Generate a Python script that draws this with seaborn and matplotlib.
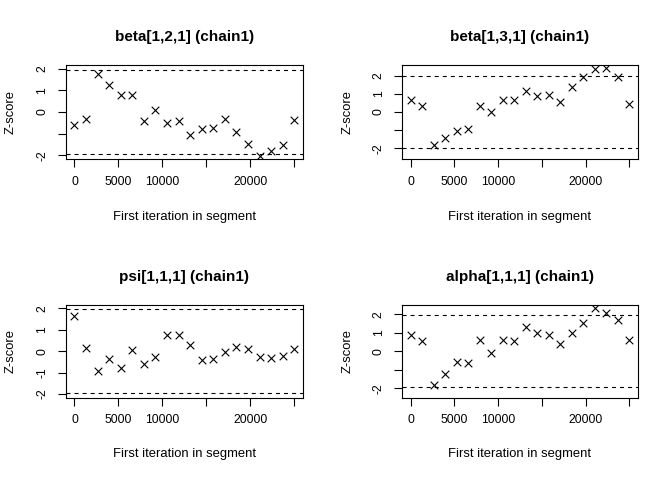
import matplotlib
matplotlib.use("Agg")
import matplotlib.pyplot as plt
import seaborn as sns
import numpy as np

# first iteration of each segment (shared by all panels)
iterations = [0, 1316, 2632, 3947, 5263, 6579, 7895, 9211, 10526, 11842,
              13158, 14474, 15789, 17105, 18421, 19737, 21053, 22368, 23684, 25000]

# Geweke z-scores
z_beta121 = [-0.60, -0.31, 1.76, 1.24, 0.77, 0.77, -0.41, 0.11, -0.49, -0.41,
             -1.07, -0.80, -0.74, -0.31, -0.93, -1.46, -2.01, -1.80, -1.54, -0.36]
z_beta131 = [0.64, 0.35, -1.80, -1.42, -1.07, -0.93, 0.35, 0.02, 0.64, 0.64,
             1.15, 0.89, 0.95, 0.56, 1.38, 1.95, 2.36, 2.40, 1.95, 0.45]
z_psi111 = [1.64, 0.17, -0.91, -0.37, -0.79, 0.05, -0.59, -0.29, 0.78, 0.75,
            0.30, -0.43, -0.38, -0.02, 0.21, 0.12, -0.29, -0.33, -0.24, 0.12]
z_alpha111 = [0.86, 0.53, -1.81, -1.21, -0.56, -0.65, 0.63, -0.11, 0.60, 0.53,
              1.32, 0.98, 0.86, 0.37, 1.00, 1.51, 2.32, 2.05, 1.70, 0.60]

titles = ["beta[1,2,1] (chain1)", "beta[1,3,1] (chain1)",
          "psi[1,1,1] (chain1)", "alpha[1,1,1] (chain1)"]

x_ticks = [0, 5000, 10000, 15000, 20000, 25000]
x_ticklabels = ["0", "5000", "10000", "", "20000", ""]
y_ticks = [-2, -1, 0, 1, 2]
y_ticklabels = [["-2", "", "0", "1", "2"], ["-2", "", "0", "1", "2"],
                ["-2", "-1", "0", "1", "2"], ["-2", "", "0", "1", "2"]]

sns.set_style("white")
plt.rcParams["font.family"] = ["Liberation Sans", "DejaVu Sans"]
plt.rcParams["lines.scale_dashes"] = False
plt.rcParams["text.color"] = "black"
plt.rcParams["axes.labelcolor"] = "black"

fig = plt.figure(figsize=(6.72, 4.8), dpi=100)

W, H = 672, 480
boxes = [(65.7, 65, 303, 159), (402, 65, 638, 159),
         (65.7, 305, 303, 397.5), (402, 305, 638, 397.5)]
series = [z_beta121, z_beta131, z_psi111, z_alpha111]

for i, (x0, y0, x1, y1) in enumerate(boxes):
    ax = fig.add_axes([x0 / W, 1 - y1 / H, (x1 - x0) / W, (y1 - y0) / H])
    z = series[i]
    sns.scatterplot(x=iterations, y=z, ax=ax, marker="x", color="black",
                    s=30, linewidth=0.8)
    ax.axhline(1.96, color="black", lw=0.8, ls=(0, (2.9, 2.9)))
    ax.axhline(-1.96, color="black", lw=0.8, ls=(0, (2.9, 2.9)))

    ylim = max(2, np.max(np.abs(z)))
    ax.set_ylim(-ylim * 1.08, ylim * 1.08)
    ax.set_xlim(-0.04 * 25000, 25000 * 1.04)

    ax.set_xticks(x_ticks)
    ax.set_xticklabels(x_ticklabels)
    ax.set_yticks(y_ticks)
    ax.set_yticklabels(y_ticklabels[i], rotation=90, va="center")
    ax.tick_params(axis="both", direction="out", length=5.5, width=0.8,
                   colors="black", labelsize=8.7, bottom=True, left=True)
    ax.tick_params(axis="x", pad=6.5)
    ax.tick_params(axis="y", pad=7)
    for sp in ax.spines.values():
        sp.set_visible(True)
        sp.set_color("black")
        sp.set_linewidth(0.8)

    ax.set_title(titles[i], fontsize=11, fontweight="bold", pad=17)
    ax.set_xlabel("First iteration in segment", fontsize=9.4)
    ax.set_ylabel("Z-score", fontsize=9.4)
    ax.xaxis.set_label_coords(0.5, -0.55)
    ax.yaxis.set_label_coords(-0.205, 0.5)

fig.savefig("out.png", dpi=100)
